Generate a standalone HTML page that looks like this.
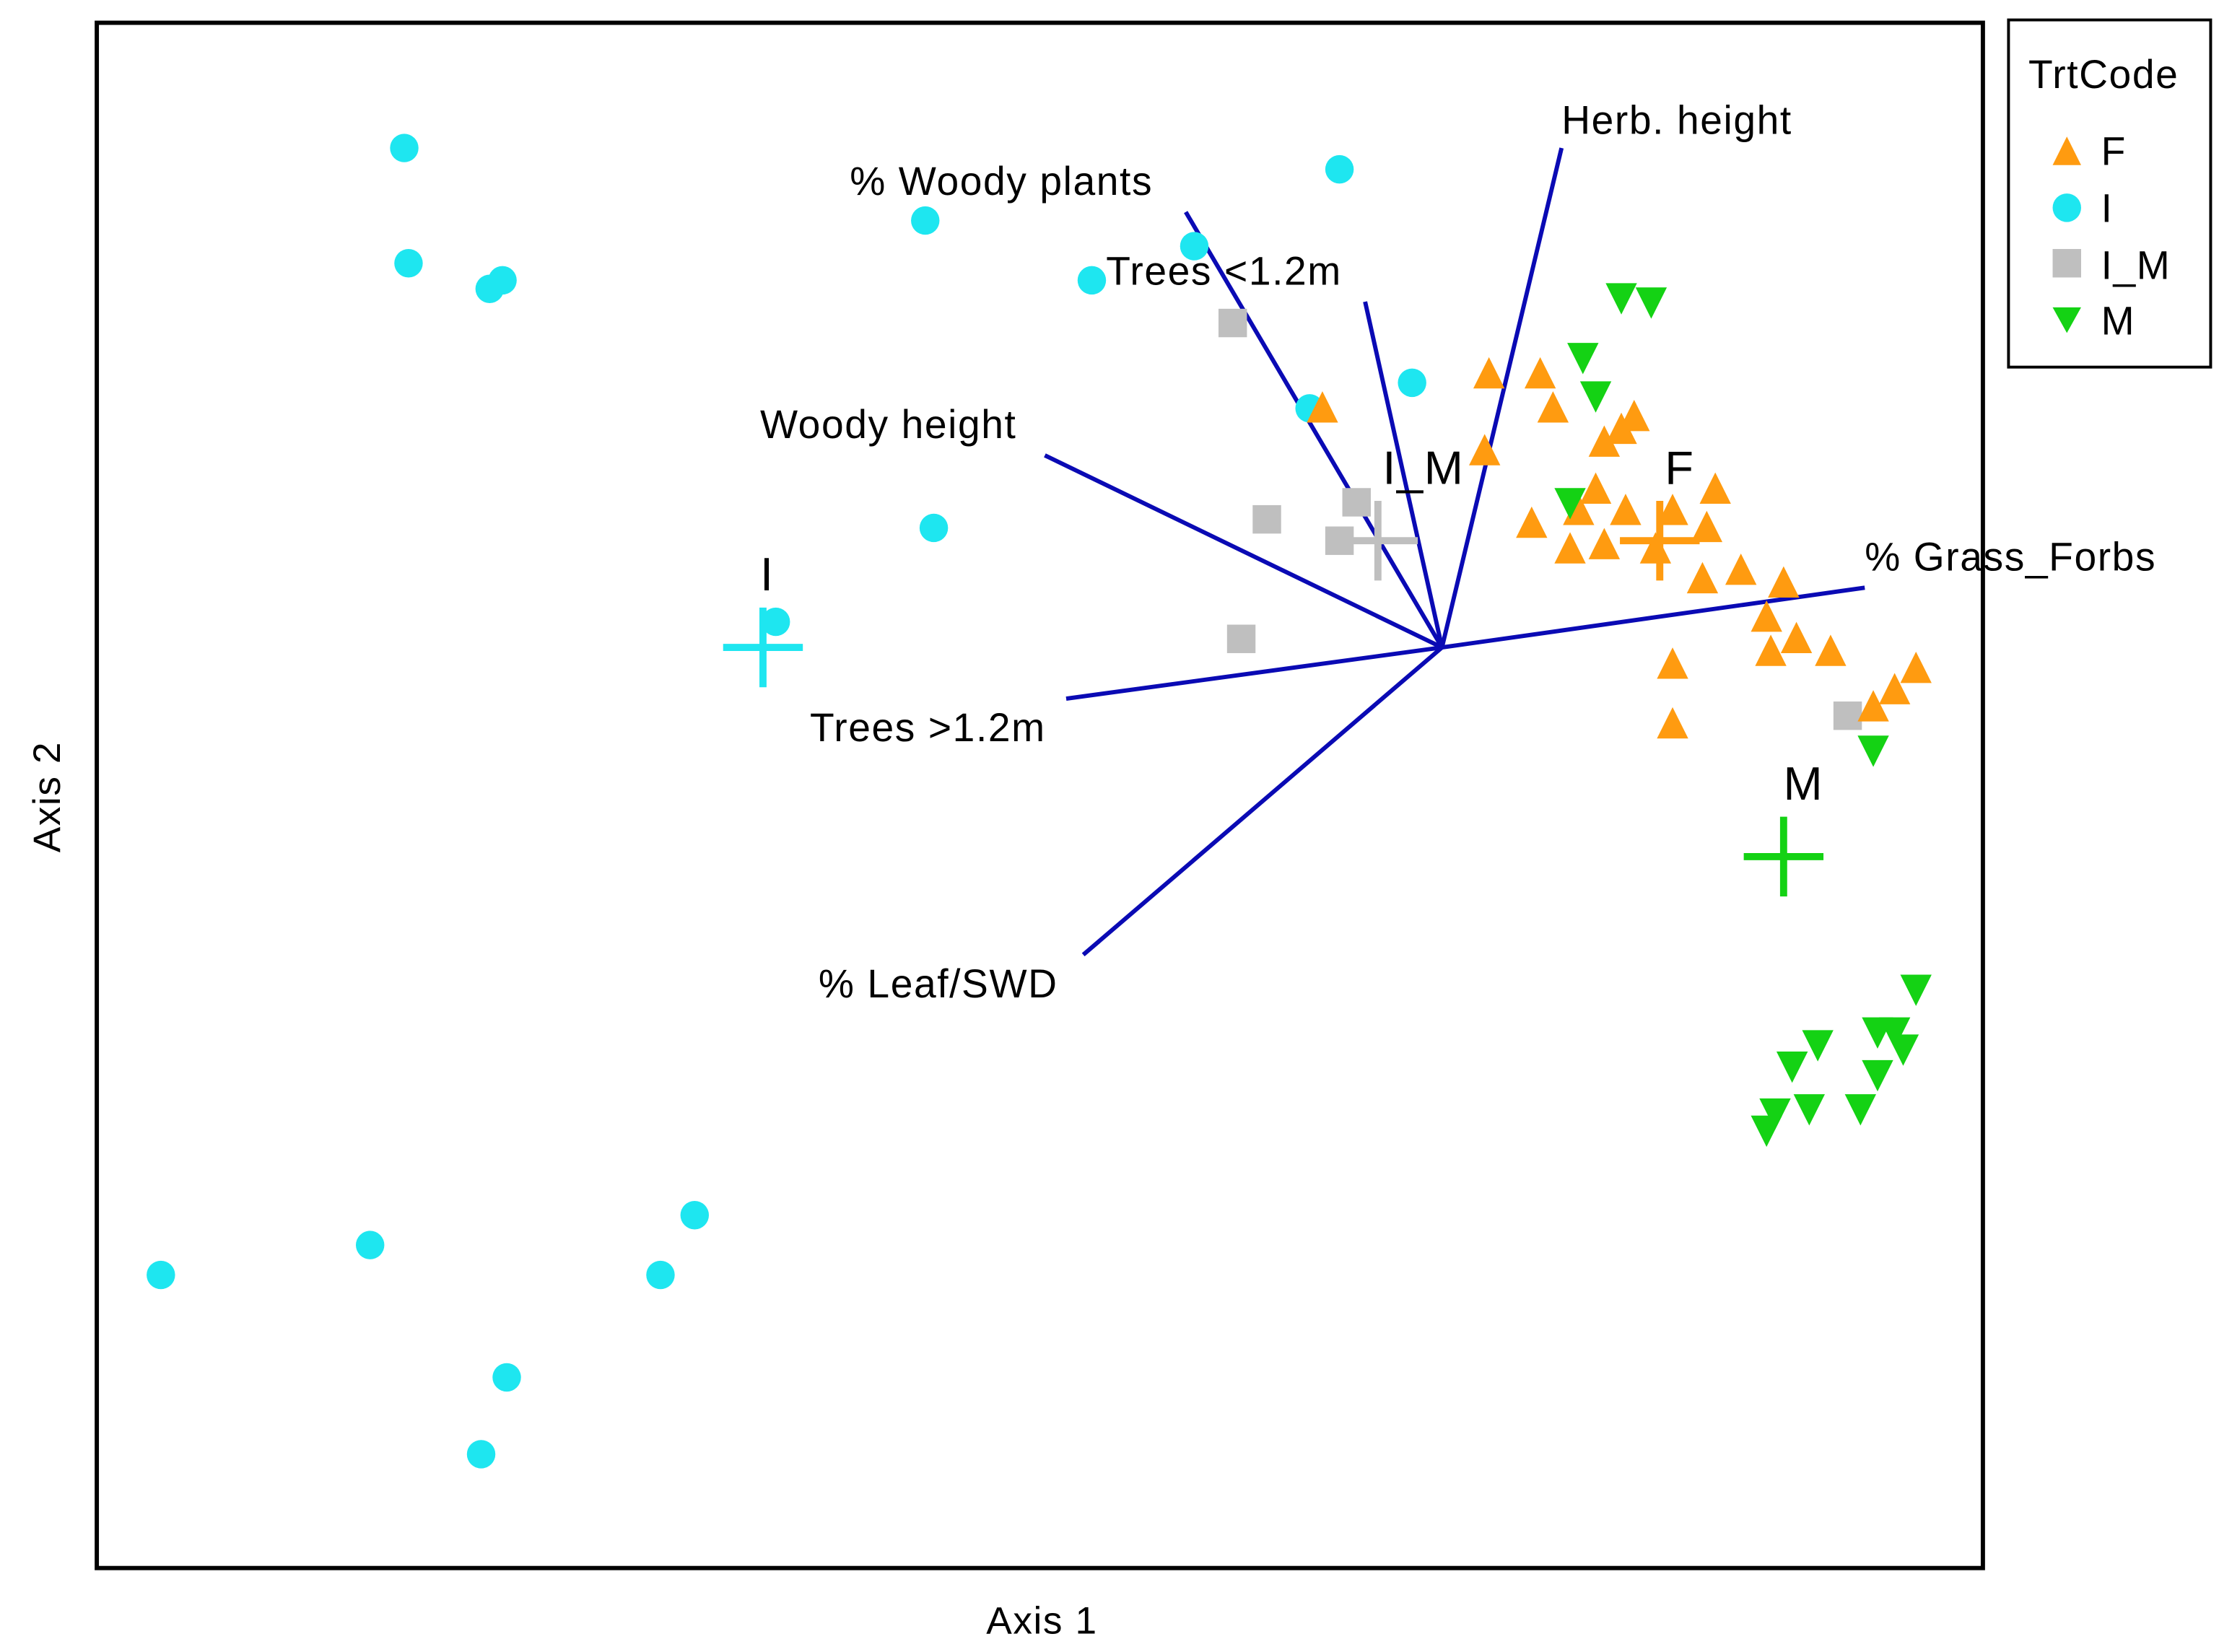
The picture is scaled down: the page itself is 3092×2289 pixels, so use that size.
<!DOCTYPE html>
<html><head><meta charset="utf-8"><style>
html,body{margin:0;padding:0;background:#fff;}
svg{display:block;font-family:"Liberation Sans",sans-serif;}
text{letter-spacing:0.8px;}
</style></head><body>
<svg id="chart" width="3092" height="2289" viewBox="0 0 1568 1161" preserveAspectRatio="none" xmlns="http://www.w3.org/2000/svg">
<rect x="68" y="16" width="1325" height="1086" fill="#fff" stroke="#000" stroke-width="3"/>
<text x="732" y="1148" font-size="27" text-anchor="middle">Axis 1</text>
<text x="0" y="0" font-size="27" text-anchor="middle" transform="translate(42,560) rotate(-90)">Axis 2</text>
<g id="vectors"></g>
<g id="points"></g>
<g id="centroids"></g>
<g>
<rect x="1411" y="14" width="142" height="244" fill="#fff" stroke="#000" stroke-width="2"/>
<text x="1425" y="62" font-size="28">TrtCode</text>
<g><polygon points="1442,116 1462,116 1452,96" fill="#ff9b10"/><text x="1476" y="116" font-size="28">F</text></g>
<g><circle cx="1452" cy="146" r="10" fill="#1ee6f0"/><text x="1476" y="156" font-size="28">I</text></g>
<g><rect x="1442" y="175" width="20" height="20" fill="#bfbfbf"/><text x="1476" y="196" font-size="28">I_M</text></g>
<g><polygon points="1442,216 1462,216 1452,234" fill="#14d214"/><text x="1476" y="235" font-size="28">M</text></g>
</g>
</svg>
<script>
// data in ordination score units
const iX=[-2.43,-2.42,-2.23,-2.20,-1.21,-0.24,-0.58,-0.82,-0.07,-0.31,-1.19,-1.56,-3.00,-2.51,-1.75,-1.83,-2.19,-2.25];
const iY=[1.17,0.90,0.84,0.86,1.00,1.12,0.94,0.86,0.62,0.56,0.28,0.06,-1.47,-1.40,-1.33,-1.47,-1.71,-1.89];
const imX=[-0.49,-0.41,-0.20,-0.24,-0.47,0.95];
const imY=[0.76,0.30,0.34,0.25,0.02,-0.16];
const fX=[-0.28,0.11,0.23,0.26,0.10,0.45,0.42,0.38,0.36,0.21,0.32,0.43,0.54,0.64,0.62,0.30,0.38,0.50,0.61,0.70,0.80,0.76,0.83,0.77,0.91,0.54,0.54,1.11,1.06,1.01];
const fY=[0.56,0.64,0.64,0.56,0.46,0.54,0.51,0.48,0.37,0.29,0.32,0.32,0.32,0.37,0.28,0.23,0.24,0.23,0.16,0.18,0.15,0.07,0.02,-0.01,-0.01,-0.04,-0.18,-0.05,-0.10,-0.14];
const mX=[0.42,0.49,0.33,0.36,0.30,1.01,1.11,1.02,1.06,1.08,0.88,0.82,1.02,0.98,0.86,0.78,0.76];
const mY=[0.82,0.81,0.68,0.59,0.34,-0.24,-0.80,-0.90,-0.90,-0.94,-0.93,-0.98,-1.00,-1.08,-1.08,-1.09,-1.13];
const centroidNames=["I","I_M","F","M"];
const centroidX=[-1.59,-0.15,0.51,0.80];
const centroidY=[0.00,0.25,0.25,-0.49];
const vectorNames=["Herb. height","% Woody plants","Trees <1.2m","Woody height","% Grass_Forbs","Trees >1.2m","% Leaf/SWD"];
const vectorX=[0.28,-0.60,-0.18,-0.93,0.99,-0.88,-0.84];
const vectorY=[1.17,1.02,0.81,0.45,0.14,-0.12,-0.72];

const NS="http://www.w3.org/2000/svg";
function sx(v){return 1013+v*300;}
function sy(v){return 455-v*300;}
function mk(tag,attrs,parent){const e=document.createElementNS(NS,tag);for(const k in attrs)e.setAttribute(k,attrs[k]);parent.appendChild(e);return e;}
const gV=document.getElementById('vectors'),gP=document.getElementById('points'),gC=document.getElementById('centroids');
const lblDx=[0,-236,-182,-200,0,-180,-186];
const lblDy=[-10,-12,-12,-12,-12,30,30];
for(let i=0;i<vectorNames.length;i++){
  const l=mk('line',{x1:sx(0),y1:sy(0),x2:sx(vectorX[i]),y2:sy(vectorY[i]),stroke:'#0a0ab4','stroke-width':3},gV);
  
  
  const t=mk('text',{x:sx(vectorX[i])+lblDx[i],y:sy(vectorY[i])+lblDy[i],'font-size':28},gV);
  t.textContent=vectorNames[i];
  
  
}
for(let i=0;i<iX.length;i++){
  const c=mk('circle',{cx:sx(iX[i]),cy:sy(iY[i]),r:10,fill:'#1ee6f0'},gP);
  
  
}
for(let i=0;i<imX.length;i++){
  const x=sx(imX[i]),y=sy(imY[i]);
  const r=mk('rect',{x:x-10,y:y-10,width:20,height:20,fill:'#bfbfbf'},gP);
  
  
}
for(let i=0;i<fX.length;i++){
  const x=sx(fX[i]),y=sy(fY[i]);
  const p=mk('polygon',{points:`${x-11},${y+10} ${x+11},${y+10} ${x},${y-12}`,fill:'#ff9b10'},gP);
  
  
}
for(let i=0;i<mX.length;i++){
  const x=sx(mX[i]),y=sy(mY[i]);
  const p=mk('polygon',{points:`${x-11},${y-10} ${x+11},${y-10} ${x},${y+12}`,fill:'#14d214'},gP);
  
  
}
const cCol=["#1ee6f0","#bfbfbf","#ff9b10","#14d214"];
for(let i=0;i<centroidNames.length;i++){
  const x=sx(centroidX[i]),y=sy(centroidY[i]);
  const g=mk('g',{},gC);
  
  
  mk('line',{x1:x-28,y1:y,x2:x+28,y2:y,stroke:cCol[i],'stroke-width':5},g);
  mk('line',{x1:x,y1:y-28,x2:x,y2:y+28,stroke:cCol[i],'stroke-width':5},g);
  const t=mk('text',{x:x+(i==1?32:i==0?3:14),y:y-40,'font-size':33,'text-anchor':'middle'},g);
  t.textContent=centroidNames[i];
}
</script>
</body></html>
